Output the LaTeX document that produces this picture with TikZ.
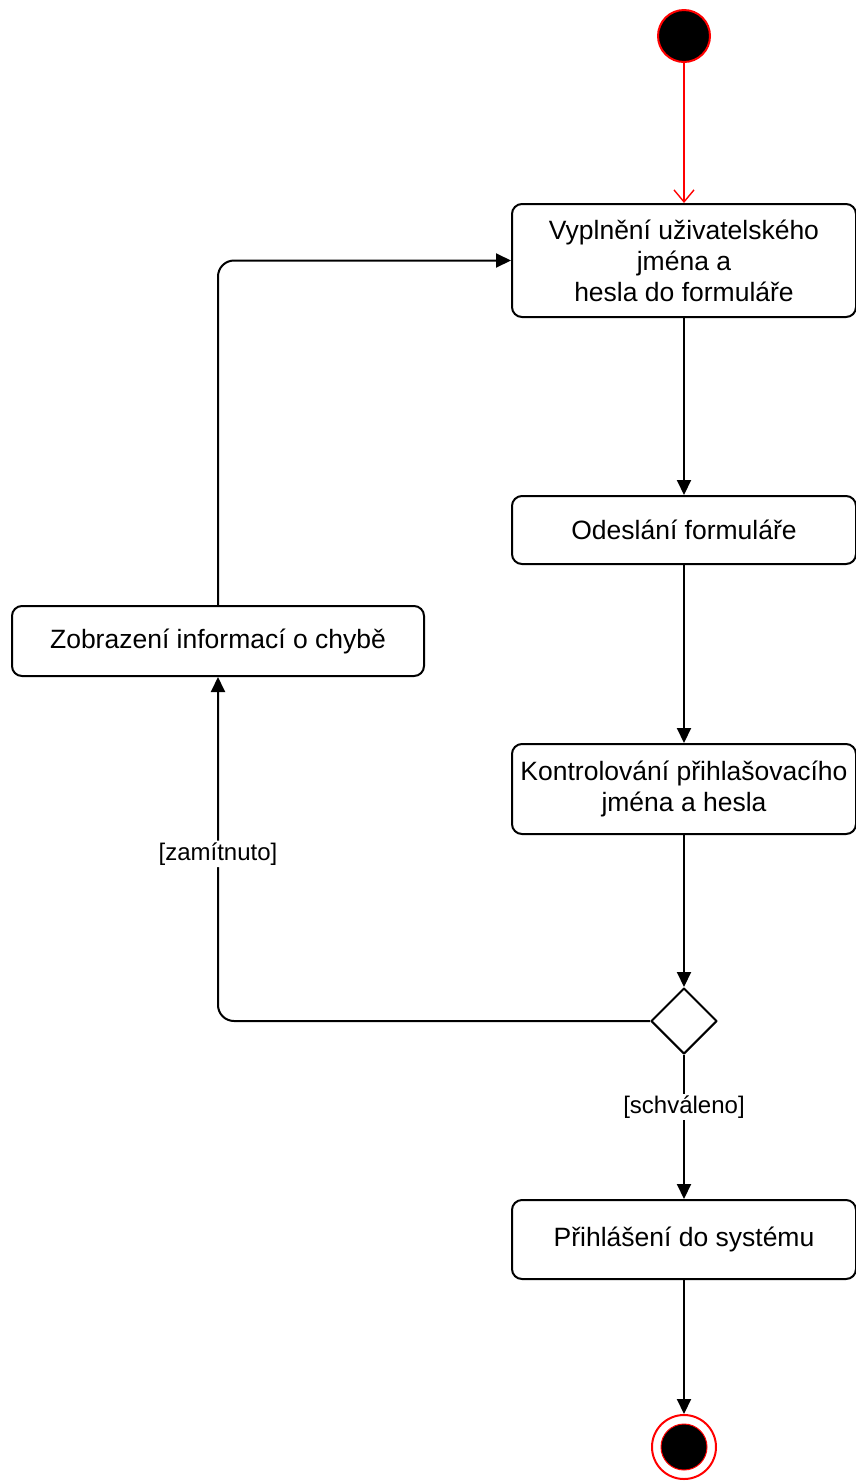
\documentclass[tikz,border=0pt]{standalone}
\usepackage{fontspec}
\setmainfont{Liberation Sans}
\usetikzlibrary{arrows.meta,shapes.geometric}

\begin{document}
\begin{tikzpicture}[x=1pt, y=-1pt, line join=round,
    akce/.style={draw, line width=2pt, rounded corners=10pt, fill=white,
        inner sep=0pt, align=center, font=\fontsize{26.5}{31}\selectfont},
    tok/.style={-{Triangle[length=15pt, width=14pt]}, line width=2pt},
    podminka/.style={fill=white, inner sep=2pt, font=\fontsize{24}{28}\selectfont}]
    \useasboundingbox (0,0) rectangle (855,1484);

    % --- Start and end ---
    \node[circle, draw=red, line width=2pt, fill=black, minimum size=52pt] (start) at (684,36) {};
    \node[circle, draw=red, line width=2pt, fill=white, minimum size=64pt] (konec) at (684,1447) {};
    \node[circle, draw=red, line width=1pt, fill=black, minimum size=46pt] (konecIn) at (684,1447) {};

    % --- Activities ---
    \node[akce, minimum width=344pt, minimum height=113pt] (vyplneni) at (684,260.5)
        {Vyplnění uživatelského\\jména a\\hesla do formuláře};
    \node[akce, minimum width=344pt, minimum height=68pt] (odeslani) at (684,530)
        {Odeslání formuláře};
    \node[akce, minimum width=344pt, minimum height=90pt] (kontrola) at (684,789)
        {Kontrolování přihlašovacího\\jména a hesla};
    \node[akce, minimum width=412pt, minimum height=70pt] (chyba) at (218,641)
        {Zobrazení informací o chybě};
    \node[akce, minimum width=344pt, minimum height=79pt] (prihlaseni) at (684,1239.5)
        {Přihlášení do systému};

    % --- Decision ---
    \node[diamond, draw, line width=2pt, fill=white, minimum width=66pt,
        minimum height=66pt, inner sep=0pt] (rozhodnuti) at (684,1021) {};

    % --- Flows ---
    \draw[-{Straight Barb[length=12pt, width=20pt]}, red, line width=1.4pt] (start) -- (vyplneni);
    \draw[tok] (vyplneni) -- (odeslani);
    \draw[tok] (odeslani) -- (kontrola);
    \draw[tok] (kontrola) -- (rozhodnuti);
    \draw[tok] (rozhodnuti) -- node[podminka, pos=0.36] {[schváleno]} (prihlaseni);
    \draw[tok] (prihlaseni) -- (konec);
    \draw[tok, rounded corners=16pt] (rozhodnuti.west) -| node[podminka, pos=0.743] {[zamítnuto]} (chyba.south);
    \draw[tok, rounded corners=16pt] (chyba.north) |- (vyplneni.west);

\end{tikzpicture}
\end{document}
